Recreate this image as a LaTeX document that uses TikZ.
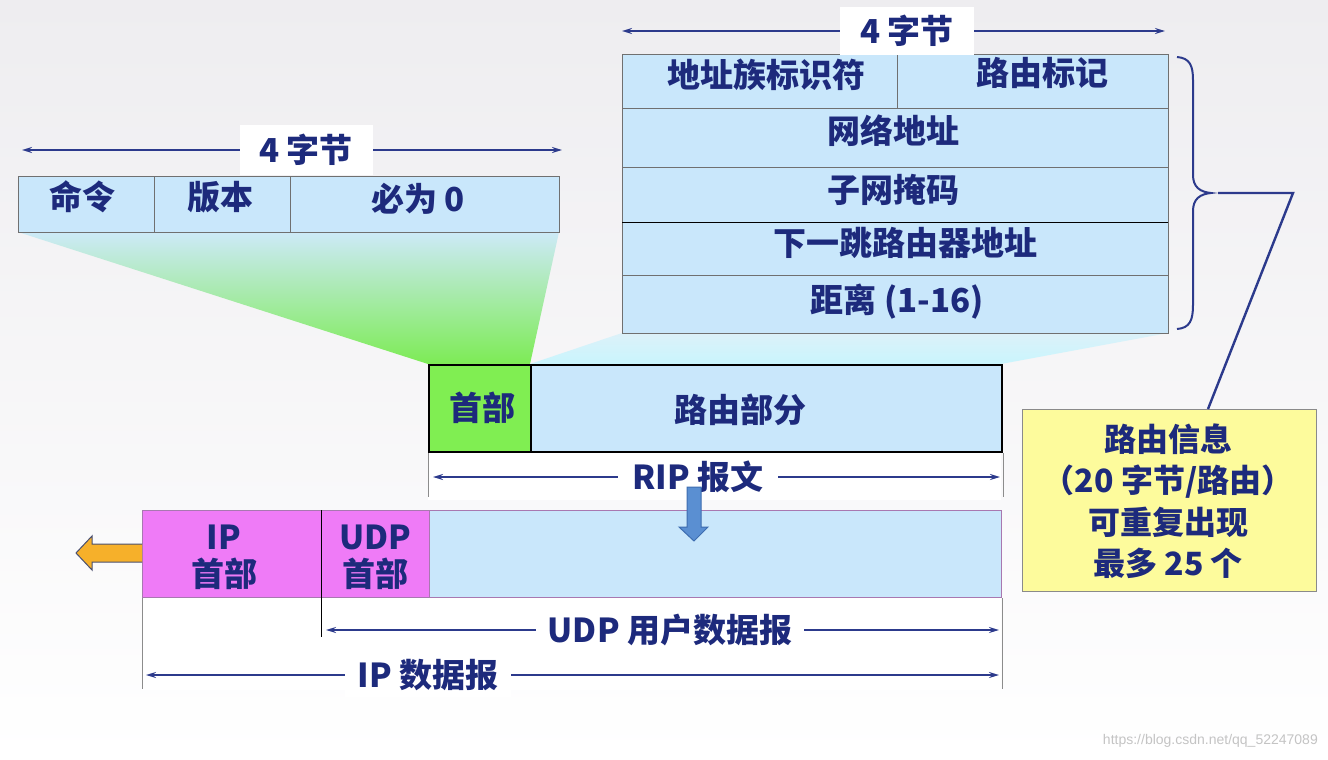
\documentclass[tikz,border=0pt]{standalone}
\usepackage{fontspec}
\setmainfont{Noto Sans CJK SC}
\newfontfamily\wmfont{Liberation Sans}
\usetikzlibrary{arrows.meta}
\definecolor{navy}{HTML}{1D2A7C}
\definecolor{dimblue}{HTML}{2C3A8C}
\definecolor{cellblue}{HTML}{C9E7FB}
\definecolor{cellline}{HTML}{707070}
\definecolor{bgtop}{HTML}{EEEDF0}
\definecolor{fanblue}{HTML}{CDEAF8}
\definecolor{fangreen}{HTML}{7DEB55}
\definecolor{fancyan}{HTML}{C9F5FD}
\definecolor{fancyantop}{HTML}{DCF1F9}
\definecolor{headgreen}{HTML}{80EE52}
\definecolor{headmag}{HTML}{EF7BF7}
\definecolor{boxpurple}{HTML}{A878B0}
\definecolor{noteyellow}{HTML}{FDFB9C}
\definecolor{notegray}{HTML}{8A8A8A}
\definecolor{orangearr}{HTML}{F6B02A}
\definecolor{orangeedge}{HTML}{4A5070}
\definecolor{downblue}{HTML}{5A8FD2}
\definecolor{downedge}{HTML}{3D6DB0}
\definecolor{tickgray}{HTML}{8C8C8C}
\definecolor{wmgray}{HTML}{C4C4C4}
\begin{document}
\begin{tikzpicture}[x=1pt,y=-1pt,
  txt/.style={text=navy, font=\fontsize{33}{37}\selectfont\bfseries, inner sep=0pt, align=center},
  cellbox/.style={draw=cellline, fill=cellblue, line width=1pt, inner sep=0pt, outer sep=0pt, anchor=north west},
  dimline/.style={draw=dimblue, line width=1.8pt, {Stealth[length=10pt,width=6pt]}-{Stealth[length=10pt,width=6pt]}},
  dimlabel/.style={txt, fill=white, inner xsep=12pt, inner ysep=6pt},
  tick/.style={draw=tickgray, line width=1pt},
]
% background
\shade[top color=bgtop, bottom color=white] (0,0) rectangle (1328,760);
\useasboundingbox (0,0) rectangle (1328,760);
\fill[white] (428,451) rectangle (1001,500);
\fill[white] (142,597) rectangle (1001,690);

% fans
\shade[top color=fanblue, bottom color=fangreen] (18,232) -- (559,232) -- (530,364) -- (428,364) -- cycle;
\shade[top color=fancyantop, bottom color=fancyan] (622,333) -- (1168,333) -- (1001,364) -- (530,364) -- cycle;

% top-left header table
\node[cellbox, minimum width=136pt, minimum height=56pt] (cmd) at (18,176) {};
\node[cellbox, minimum width=136pt, minimum height=56pt] (ver) at (154,176) {};
\node[cellbox, minimum width=269pt, minimum height=56pt] (zero) at (290,176) {};
\node[txt] (tcmd) at (82,197) {命令};
\node[txt] (tver) at (220,197) {版本};
\node[txt] (tzero) at (418,199) {必为 0};
\coordinate (lhL) at (22,150);
\coordinate (lhR) at (562,150);
\draw[dimline] (lhL) -- (lhR);
\node[dimlabel, minimum width=133pt, minimum height=50pt] (lhlab) at (306,150) {4 字节};

% top-right route entry table
\node[cellbox, minimum width=275pt, minimum height=53pt] (afi) at (622,55) {};
\node[cellbox, minimum width=271pt, minimum height=53pt] (tag) at (897,55) {};
\node[cellbox, minimum width=546pt, minimum height=59pt] (net) at (622,108) {};
\node[cellbox, minimum width=546pt, minimum height=55pt] (mask) at (622,167) {};
\node[cellbox, minimum width=546pt, minimum height=53pt] (nhop) at (622,222) {};
\node[cellbox, minimum width=546pt, minimum height=58pt] (dist) at (622,275) {};
\draw[black, line width=1pt] (mask.south west) -- (mask.south east);
\node[txt] (tafi) at (766,75) {地址族标识符};
\node[txt] (ttag) at (1042,73) {路由标记};
\node[txt] (tnet) at (893,131) {网络地址};
\node[txt] (tmask) at (893,190) {子网掩码};
\node[txt] (tnhop) at (905,243) {下一跳路由器地址};
\node[txt] (tdist) at (897,302) {距离 (1-16)};
\coordinate (rhL) at (622,31);
\coordinate (rhR) at (1165,31);
\draw[dimline] (rhL) -- (rhR);
\node[dimlabel, minimum width=134pt, minimum height=48pt] (rhlab) at (907,31) {4 字节};

% brace and callout
\draw[dimblue, line width=2pt] (1177,57) .. controls (1190,58) and (1193,66) .. (1193,80) -- (1193,175)
  .. controls (1193,187) and (1200,192) .. (1211,193)
  .. controls (1200,194) and (1193,199) .. (1193,211) -- (1193,305)
  .. controls (1193,320) and (1190,328) .. (1177,329);
\node[draw=notegray, fill=noteyellow, line width=1pt, minimum width=294pt, minimum height=182pt, anchor=north west, inner sep=0pt] (note) at (1022,409) {};
\node[txt, font=\fontsize{32}{41.5}\selectfont\bfseries] (tnote) at (1168,501) {路由信息\\（20 字节/路由）\\可重复出现\\最多 25 个};
\coordinate (btip) at (1218,193);
\coordinate (bknee) at (1293,193);
\draw[dimblue, line width=2.4pt] (btip) -- (bknee) -- ([xshift=186pt]note.north west);

% RIP message
\node[draw=black, fill=headgreen, line width=2pt, minimum width=102pt, minimum height=87pt, anchor=north west, inner sep=0pt] (riphead) at (428,364) {};
\node[draw=black, fill=cellblue, line width=2pt, minimum width=471pt, minimum height=87pt, anchor=north west, inner sep=0pt] (riproute) at (530,364) {};
\node[txt] (triphead) at (482,408) {首部};
\node[txt] (triproute) at (740,410) {路由部分};
\draw[tick] (riphead.south west) -- ++(0,44);
\draw[tick] (riproute.south east) -- ++(0,44);
\coordinate (ripL) at (433,477);
\coordinate (ripR) at (1000,477);
\draw[dimline] (ripL) -- (ripR);
\node[dimlabel, inner xsep=14pt] (riplab) at (698,477) {RIP 报文};

% IP datagram
\node[draw=boxpurple, fill=headmag, line width=1pt, minimum width=179pt, minimum height=87pt, anchor=north west, inner sep=0pt] (iphead) at (142,510) {};
\node[draw=boxpurple, fill=headmag, line width=1pt, minimum width=108pt, minimum height=87pt, anchor=north west, inner sep=0pt] (udphead) at (321,510) {};
\node[draw=boxpurple, fill=cellblue, line width=1pt, minimum width=572pt, minimum height=87pt, anchor=north west, inner sep=0pt] (udpdata) at (429,510) {};
\draw[black, line width=1pt] (udphead.north west) -- ++(0,127);
\node[txt] (tiphead) at (224,557) {IP\\首部};
\node[txt] (tudphead) at (375,557) {UDP\\首部};
\draw[tick] (iphead.south west) -- ++(0,91);
\draw[tick] (udpdata.south east) -- ++(0,91);
\coordinate (udpL) at (326,630);
\coordinate (udpR) at (999,630);
\draw[dimline] (udpL) -- (udpR);
\node[dimlabel] (udplab) at (670,630) {UDP 用户数据报};
\coordinate (ipL) at (146,675);
\coordinate (ipR) at (999,675);
\draw[dimline] (ipL) -- (ipR);
\node[dimlabel, inner xsep=13pt] (iplab) at (428,675) {IP 数据报};

% down arrow (RIP into UDP)
\draw[downedge, fill=downblue, line width=1pt] (687,487) -- (701,487) -- (701,527) -- (708,527) -- (694,541) -- (679,527) -- (687,527) -- cycle;

% orange arrow (leaving)
\draw[orangeedge, fill=orangearr, line width=1pt] (iphead.west |- 0,544) -- (92,544) -- (92,536) -- (76,553) -- (92,570) -- (92,562) -- (iphead.west |- 0,562);

% watermark
\node[anchor=east, text=wmgray, font=\wmfont\fontsize{14}{16}\selectfont, inner sep=0pt] (wm) at (1318,741) {https://blog.csdn.net/qq\_52247089};
\end{tikzpicture}
\end{document}
